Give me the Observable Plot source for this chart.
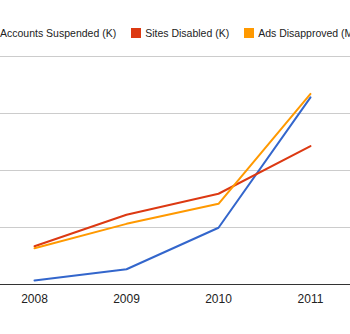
<!DOCTYPE html>
<html>
<head>
<meta charset="utf-8">
<script src="https://cdn.jsdelivr.net/npm/d3@7"></script>
<script src="https://cdn.jsdelivr.net/npm/@observablehq/plot@0.6"></script>
<style>
  html, body { margin: 0; padding: 0; background: #fff; overflow: hidden; }
  body { width: 350px; height: 334px; font-family: Arial, "Liberation Sans", sans-serif; }
  #legend { height: 44px; position: relative; white-space: nowrap; overflow: hidden; }
  #legend .inner { position: absolute; left: -14px; top: 27px; display: flex; align-items: center; font-size: 10.5px; color: #222; }
  #legend .item { display: inline-flex; align-items: center; margin-right: 15px; }
  #legend .sw { width: 10px; height: 10px; margin-right: 4px; display: inline-block; }
  svg { display: block; }
</style>
</head>
<body>
<div id="legend"><div class="inner"></div></div>
<div id="chart"></div>
<script>
const years = [2008, 2009, 2010, 2011];
const seriesNames = ["Accounts Suspended (K)", "Sites Disabled (K)", "Ads Disapproved (M)"];
const seriesColors = ["#3366cc", "#dc3912", "#ff9900"];
const accountsSuspended = [1.8, 6.7, 24.9, 82.1];
const sitesDisabled = [16.8, 30.6, 39.8, 60.7];
const adsDisapproved = [15.9, 26.6, 35.4, 83.6];
const gridValues = [25, 50, 75, 100];

const allSeries = [accountsSuspended, sitesDisabled, adsDisapproved];
const data = [];
allSeries.forEach((vals, i) => vals.forEach((v, j) => data.push({series: seriesNames[i], year: years[j], value: v})));

const inner = document.querySelector("#legend .inner");
seriesNames.forEach((n, i) => {
  const it = document.createElement("span");
  it.className = "item";
  it.innerHTML = `<span class="sw" style="background:${seriesColors[i]}"></span><span>${n}</span>`;
  inner.appendChild(it);
});

const chart = Plot.plot({
  width: 350,
  height: 290,
  marginLeft: 0,
  marginRight: 0,
  marginTop: 12,
  marginBottom: 50,
  style: {fontFamily: "Arial, 'Liberation Sans', sans-serif", fontSize: "12px", color: "#222", background: "#fff"},
  x: {type: "point", domain: years, range: [33, 310], padding: 0, label: null},
  y: {domain: [0, 100], axis: null},
  color: {domain: seriesNames, range: seriesColors},
  marks: [
    Plot.ruleY(gridValues, {stroke: "#cccccc", strokeWidth: 1}),
    Plot.line(data, {x: "year", y: "value", z: "series", stroke: "series", strokeWidth: 2}),
    Plot.ruleY([0], {stroke: "#333", strokeWidth: 1}),
    Plot.axisX({tickSize: 0, tickPadding: 10, fontSize: 12, tickFormat: d => String(d), fill: "#222"})
  ]
});
document.getElementById("chart").appendChild(chart);
</script>
</body>
</html>
